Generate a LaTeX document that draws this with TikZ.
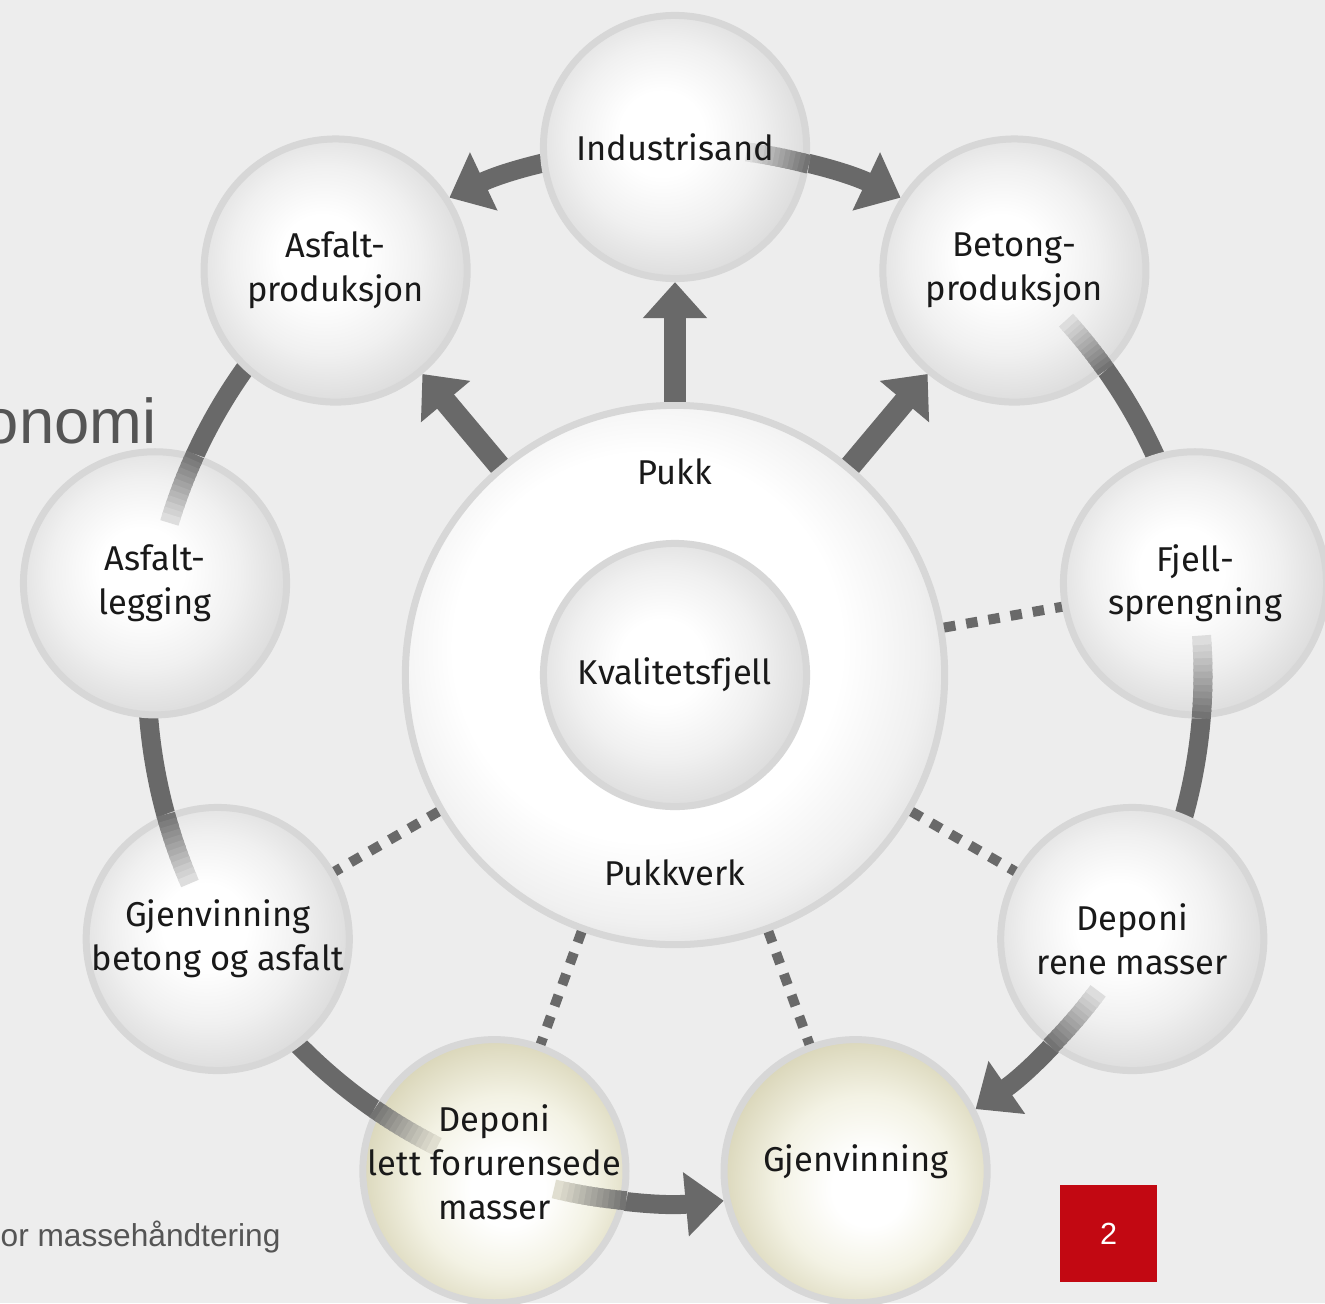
\documentclass[tikz,border=0pt]{standalone}
\usepackage{fontspec}
\setmainfont{Fira Sans}
\newfontfamily\arialf{Liberation Sans}
\usetikzlibrary{arrows.meta,calc}
\definecolor{bgcol}{RGB}{237,237,237}
\definecolor{arcgray}{RGB}{105,105,105}
\definecolor{rimgray}{RGB}{215,215,215}
\definecolor{graybase}{RGB}{232,232,232}
\definecolor{creambase}{RGB}{236,234,218}
\definecolor{textgray}{RGB}{85,85,85}
\definecolor{boxred}{RGB}{194,8,18}
\definecolor{orbmid}{RGB}{240,240,240}
\definecolor{orbedge}{RGB}{220,220,220}
\definecolor{creammid}{RGB}{243,242,228}
\definecolor{creamedge}{RGB}{216,212,182}
\pgfdeclareradialshading{orbgray}{\pgfpoint{-3bp}{3bp}}{color(0bp)=(white); color(8bp)=(white); color(18bp)=(orbmid); color(27bp)=(orbedge); color(50bp)=(orbedge)}
\pgfdeclareradialshading{orbcream}{\pgfpoint{3bp}{-4bp}}{color(0bp)=(white); color(7bp)=(white); color(17bp)=(creammid); color(28bp)=(creamedge); color(50bp)=(creamedge)}
\pgfdeclareradialshading{orbbig}{\pgfpoint{-4bp}{4bp}}{color(0bp)=(white); color(18bp)=(white); color(25bp)=(orbmid); color(30bp)=(orbedge); color(50bp)=(orbedge)}
\tikzset{
 orbg/.style={circle, shade, shading=orbgray, draw=rimgray, line width=0.07cm, minimum size=2.63cm, inner sep=0},
 orbc/.style={circle, shade, shading=orbcream, draw=rimgray, line width=0.07cm, minimum size=2.63cm, inner sep=0},
 lbl/.style={align=center, font=\fontsize{9.8}{12.4}\selectfont, text=black!90, inner sep=0},
 ring/.style={draw=arcgray, line width=0.19cm},
 ringarrow/.style={ring, -{Triangle[length=0.38cm,width=0.62cm]}},
 spoke/.style={draw=arcgray, line width=0.22cm, -{Triangle[length=0.36cm,width=0.62cm]}},
 dots/.style={draw=arcgray, line width=0.10cm, dash pattern=on 0.115cm off 0.11cm},
}
\newcommand{\ringarc}[3][ring]{\draw[#1] ($(C)+(#2:528)$) arc[start angle=#2, end angle=#3, radius=528];}
\newcommand{\ringfade}[3]{%
 \foreach \k in {0,...,11}{%
  \pgfmathsetmacro\fadeA{#1+(#2-(#1))*\k/12}%
  \pgfmathsetmacro\fadeB{#1+(#2-(#1))*(\k+1.4)/12}%
  \pgfmathtruncatemacro\fadeP{92-\k*7.5}%
  \draw[line width=0.19cm, draw=arcgray!\fadeP!#3] ($(C)+(\fadeA:528)$) arc[start angle=\fadeA, end angle=\fadeB, radius=528];
 }}
\begin{document}
\begin{tikzpicture}[x=0.01cm,y=0.01cm]
\useasboundingbox (0,0) rectangle (1325,-1303);
\clip (0,0) rectangle (1325,-1303);
\fill[bgcol] (0,0) rectangle (1325,-1303);
\coordinate (C) at (675,-675);
\node[anchor=base east, inner sep=0, font=\arialf\fontsize{18}{20}\selectfont, text=textgray] (oko) at (157,-443) {onomi};
\node[anchor=base west, inner sep=0, font=\arialf\fontsize{9}{11}\selectfont, text=textgray] (foot) at (0,-1246) {or massehåndtering};
% ring arcs
\ringarc[ringarrow]{95}{115.3}
\ringarc[ringarrow]{85}{64.7}
\ringarc{45}{15}
\ringarc{5}{-25}
\ringarc[ringarrow]{-35}{-55.3}
\ringarc[ringarrow]{255}{275.3}
\ringarc{140}{160}
\ringarc{180}{200}
\ringarc{220}{240}
% circles
\node[orbg] (ind) at ($(C)+(90:528)$) {};
\node[orbg] (bet) at ($(C)+(50:528)$) {};
\node[orbg] (fje) at ($(C)+(10:528)$) {};
\node[orbg] (dre) at ($(C)+(-30:528)$) {};
\node[orbc] (gje) at ($(C)+(-70:528)$) {};
\node[orbc] (dlf) at ($(C)+(-110:528)$) {};
\node[orbg] (gba) at ($(C)+(-150:528)$) {};
\node[orbg] (asl) at ($(C)+(170:528)$) {};
\node[orbg] (asp) at ($(C)+(130:528)$) {};
\node[circle, shade, shading=orbbig, draw=rimgray, line width=0.07cm, minimum size=5.39cm, inner sep=0] (pv) at (C) {};
\node[orbg] (kf) at (C) {};
% fades inside circles
\ringfade{75.3}{82}{graybase}
\ringfade{35.3}{42}{graybase}
\ringfade{-4.7}{4}{graybase}
\ringfade{-44.7}{-37}{graybase}
\ringfade{264.7}{257}{creambase}
\ringfade{155.3}{163}{graybase}
\ringfade{195.3}{203}{graybase}
\ringfade{235.3}{243}{creambase}
% spokes
\draw[spoke] (pv) -- (ind);
\draw[spoke] (pv) -- (asp);
\draw[spoke] (pv) -- (bet);
% dotted links
\draw[dots] (pv) -- (fje);
\draw[dots] (pv) -- (dre);
\draw[dots] (pv) -- (gje);
\draw[dots] (pv) -- (dlf);
\draw[dots] (pv) -- (gba);
% labels
\node[lbl] at (ind) {Industrisand};
\node[lbl] at (bet) {Betong-\\produksjon};
\node[lbl] at (fje) {Fjell-\\sprengning};
\node[lbl] at (dre) {Deponi\\rene masser};
\node[lbl] at ($(gje)+(0,9)$) {Gjenvinning};
\node[lbl] at ($(dlf)+(0,9)$) {Deponi\\lett forurensede\\masser};
\node[lbl] at (gba) {Gjenvinning\\betong og asfalt};
\node[lbl] at (asl) {Asfalt-\\legging};
\node[lbl] at (asp) {Asfalt-\\produksjon};
\node[lbl] at ($(pv)+(0,203)$) {Pukk};
\node[lbl] at ($(pv)+(0,-198)$) {Pukkverk};
\node[lbl] at (kf) {Kvalitetsfjell};
% page number box
\node[fill=boxred, minimum size=0.97cm, inner sep=0, text=white, font=\arialf\fontsize{8.7}{10}\selectfont] (pg) at (1108.5,-1233.5) {2};
\end{tikzpicture}
\end{document}
